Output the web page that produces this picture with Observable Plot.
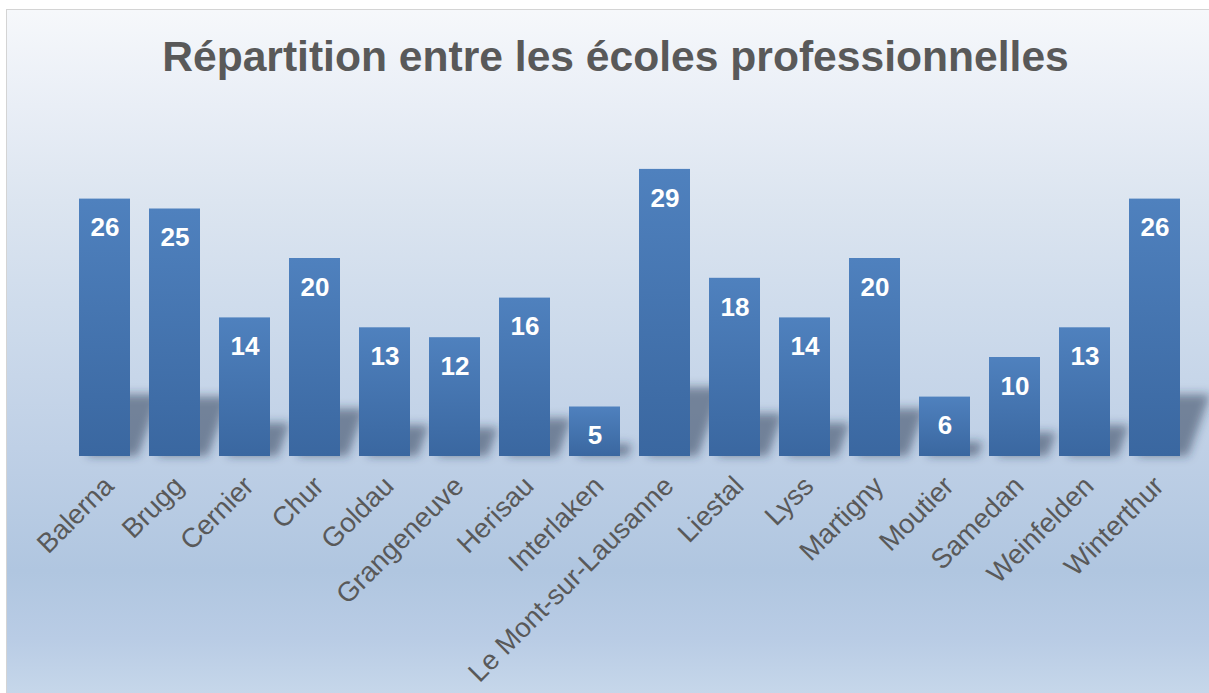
<!DOCTYPE html>
<html>
<head>
<meta charset="utf-8">
<script src="https://cdn.jsdelivr.net/npm/d3@7"></script>
<script src="https://cdn.jsdelivr.net/npm/@observablehq/plot@0.6"></script>
<style>
  html, body { margin: 0; padding: 0; background: #ffffff; }
  body { width: 1209px; height: 693px; overflow: hidden; position: relative; font-family: "Liberation Sans", Arial, sans-serif; }
  #frame {
    position: absolute; left: 6px; top: 9px; width: 1203px; height: 684px;
    border-left: 1px solid #d4d4d4; border-top: 1px solid #d4d4d4;
    background: linear-gradient(to bottom, #f6f8fb 0%, #e9eef6 14%, #dce5f0 28%, #cfdcec 43%, #bfd0e6 64%, #b0c6e0 82%, #b9cce5 92%, #c6d7ea 100%);
  }
  #title {
    height: 100px; line-height: 92px; text-align: center; margin: 0; white-space: nowrap;
    font-family: "Liberation Sans", Arial, sans-serif; font-weight: bold; font-size: 42.6px; color: #595959;
    padding-left: 14px;
  }
  #chart svg { display: block; background: transparent; }
</style>
</head>
<body>
<div id="frame">
  <div id="title">Répartition entre les écoles professionnelles</div>
  <div id="chart"></div>
</div>
<script>
const schools = ["Balerna","Brugg","Cernier","Chur","Goldau","Grangeneuve","Herisau","Interlaken","Le Mont-sur-Lausanne","Liestal","Lyss","Martigny","Moutier","Samedan","Weinfelden","Winterthur"];
const counts = [26,25,14,20,13,12,16,5,29,18,14,20,6,10,13,26];

const data = schools.map((s, i) => ({school: s, count: counts[i]}));

const chart = Plot.plot({
  width: 1202,
  height: 583,
  marginLeft: 61.5,
  marginRight: 18.5,
  marginTop: 49,
  marginBottom: 237,
  style: {background: "transparent", fontFamily: "'Liberation Sans', Arial, sans-serif", overflow: "visible"},
  x: {domain: schools, paddingInner: 0.273, paddingOuter: 0.136, axis: null},
  y: {domain: [0, 30], axis: null},
  marks: [
    Plot.barY(data, {x: "school", y: "count", fill: "#22324a", fillOpacity: 0.5}),
    Plot.barY(data, {x: "school", y: "count", fill: "url(#barGrad)"}),
    Plot.text(data, {x: "school", y: "count", text: d => String(d.count), dy: 29, fill: "white", fontWeight: "bold", fontSize: 26}),
    Plot.text(data, {x: "school", y: 0, text: "school", dy: 25, dx: 4, rotate: -45, textAnchor: "end", fontSize: 27.5, fill: "#595959"})
  ]
});

const svg = d3.select(chart);
const defs = svg.insert("defs", ":first-child");
const grad = defs.append("linearGradient").attr("id", "barGrad").attr("x1", 0).attr("y1", 0).attr("x2", 0).attr("y2", 1);
grad.append("stop").attr("offset", "0%").attr("stop-color", "#4f81be");
grad.append("stop").attr("offset", "100%").attr("stop-color", "#3a67a0");
const filt = defs.append("filter").attr("id", "shadowBlur").attr("x", "-20%").attr("y", "-50%").attr("width", "140%").attr("height", "200%");
filt.append("feGaussianBlur").attr("stdDeviation", 5);

const base = 583 - 237;
const shadowG = svg.selectAll('g[aria-label="bar"]').nodes()[0];
const wrap = document.createElementNS("http://www.w3.org/2000/svg", "g");
shadowG.parentNode.insertBefore(wrap, shadowG);
wrap.appendChild(shadowG);
wrap.setAttribute("filter", "url(#shadowBlur)");
d3.select(shadowG)
  .attr("transform", `translate(8,${base}) skewX(-20) scale(1,0.24) translate(0,${-base})`);

document.getElementById("chart").appendChild(chart);
</script>
</body>
</html>
